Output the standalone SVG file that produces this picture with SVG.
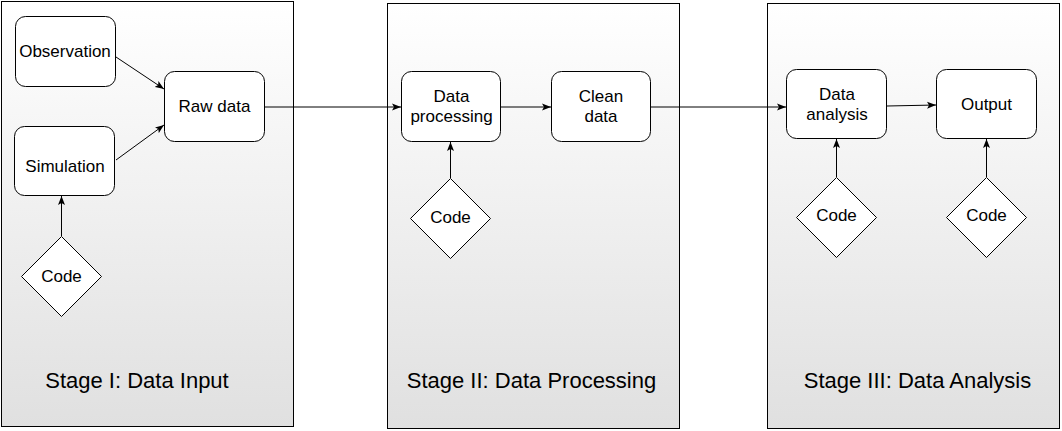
<svg xmlns="http://www.w3.org/2000/svg" width="1062" height="431" viewBox="0 0 1062 431">
<defs>
<linearGradient id="bg" x1="0" y1="0" x2="0" y2="1">
<stop offset="0" stop-color="#ffffff"/>
<stop offset="1" stop-color="#e0e0e0"/>
</linearGradient>
<marker id="arr" markerWidth="10" markerHeight="8" refX="9" refY="4" orient="auto" markerUnits="userSpaceOnUse">
<path d="M0,0.5 L9,4 L0,7.5 L2,4 z" fill="#000"/>
</marker>
<style>
.panel{fill:url(#bg);stroke:#000;stroke-width:1}
.box{fill:#fff;stroke:#000;stroke-width:1}
.t{font-family:"Liberation Sans",Arial,sans-serif;font-size:17px;fill:#000;text-anchor:middle}
.st{font-family:"Liberation Sans",Arial,sans-serif;font-size:22px;fill:#000;text-anchor:middle}
.c{fill:none;stroke:#000;stroke-width:1;marker-end:url(#arr)}
</style>
</defs>
<rect width="1062" height="431" fill="#fff"/>
<g id="stage1">
<rect class="panel" x="1.5" y="1.5" width="292" height="425"/>
<text class="st" x="137" y="388">Stage I: Data Input</text>
</g>
<g id="stage2">
<rect class="panel" x="387.5" y="3.5" width="292" height="425"/>
<text class="st" x="531.5" y="388">Stage II: Data Processing</text>
</g>
<g id="stage3">
<rect class="panel" x="767.5" y="3.5" width="292" height="425"/>
<text class="st" x="917.5" y="388">Stage III: Data Analysis</text>
</g>
<g id="connectors">
<line class="c" x1="116" y1="57" x2="164" y2="89"/>
<line class="c" x1="116" y1="160" x2="164" y2="125"/>
<line class="c" x1="61.5" y1="236" x2="61.5" y2="196"/>
<line class="c" x1="265" y1="107" x2="401" y2="107"/>
<line class="c" x1="501" y1="107" x2="551" y2="107"/>
<line class="c" x1="450.5" y1="178" x2="450.5" y2="142"/>
<line class="c" x1="651" y1="107" x2="786" y2="107"/>
<line class="c" x1="887" y1="106" x2="936" y2="105"/>
<line class="c" x1="836.5" y1="177" x2="836.5" y2="139"/>
<line class="c" x1="986.5" y1="177" x2="986.5" y2="139"/>
</g>
<g id="observation">
<rect class="box" x="15.5" y="16.5" width="100" height="70" rx="10"/>
<text class="t" x="65" y="57">Observation</text>
</g>
<g id="simulation">
<rect class="box" x="14.5" y="126.5" width="100" height="69" rx="10"/>
<text class="t" x="65" y="172">Simulation</text>
</g>
<g id="rawdata">
<rect class="box" x="164.5" y="71.5" width="100" height="70" rx="10"/>
<text class="t" x="214.5" y="112">Raw data</text>
</g>
<g id="code1">
<polygon class="box" points="61.5,236.5 101.5,276.5 61.5,316.5 21.5,276.5"/>
<text class="t" x="61.5" y="282">Code</text>
</g>
<g id="dataprocessing">
<rect class="box" x="401.5" y="71.5" width="99" height="70" rx="10"/>
<text class="t" x="451.5" y="102">Data</text>
<text class="t" x="451.5" y="122">processing</text>
</g>
<g id="cleandata">
<rect class="box" x="551.5" y="71.5" width="99" height="70" rx="10"/>
<text class="t" x="601" y="102">Clean</text>
<text class="t" x="601" y="122">data</text>
</g>
<g id="code2">
<polygon class="box" points="450.5,178.5 490.5,218.5 450.5,258.5 410.5,218.5"/>
<text class="t" x="450.5" y="223">Code</text>
</g>
<g id="dataanalysis">
<rect class="box" x="786.5" y="69.5" width="100" height="69" rx="10"/>
<text class="t" x="837" y="100">Data</text>
<text class="t" x="837" y="120">analysis</text>
</g>
<g id="output">
<rect class="box" x="936.5" y="69.5" width="100" height="69" rx="10"/>
<text class="t" x="986.5" y="110">Output</text>
</g>
<g id="code3">
<polygon class="box" points="836.5,177.5 876.5,217.5 836.5,257.5 796.5,217.5"/>
<text class="t" x="836.5" y="221">Code</text>
</g>
<g id="code4">
<polygon class="box" points="986.5,177.5 1026.5,217.5 986.5,257.5 946.5,217.5"/>
<text class="t" x="986.5" y="221">Code</text>
</g>
</svg>
